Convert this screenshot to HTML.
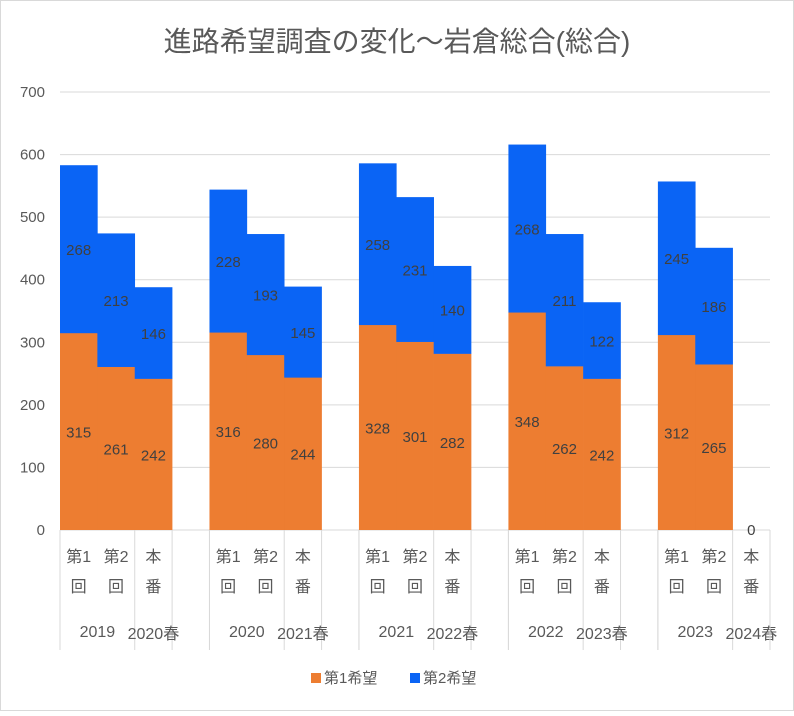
<!DOCTYPE html>
<html><head><meta charset="utf-8"><style>
body{margin:0;background:#fff}
svg{font-family:"Liberation Sans","Noto Sans CJK JP",sans-serif}
</style></head><body>
<svg id="c" width="794" height="711" xmlns="http://www.w3.org/2000/svg">
<rect x="0.5" y="0.5" width="793" height="710" fill="#fff" stroke="#d9d9d9"/>
<text x="397" y="51" text-anchor="middle" font-size="28" fill="#595959">進路希望調査の変化～岩倉総合(総合)</text>
<g id="grid"></g><g id="bars"></g><g id="axis"></g>
<g>
<rect x="311" y="673" width="10" height="10" fill="#ed7d31"/>
<text x="324" y="683" font-size="15" fill="#595959">第1希望</text>
<rect x="410" y="673" width="10" height="10" fill="#0a64f5"/>
<text x="423" y="683" font-size="15" fill="#595959">第2希望</text>
</g>
</svg>
<script>
const years=["2019","2020","2021","2022","2023"];
const springs=["2020春","2021春","2022春","2023春","2024春"];
const subs=[["第1","回"],["第2","回"],["本","番"]];
const first=[[315,261,242],[316,280,244],[328,301,282],[348,262,242],[312,265,0]];
const second=[[268,213,146],[228,193,145],[258,231,140],[268,211,122],[245,186,0]];
const yTicks=[0,100,200,300,400,500,600,700];
const NS="http://www.w3.org/2000/svg";
const x0=60,x1=770,slots=19,sw=(x1-x0)/slots;
const y=v=>530-v*(438/700);
const sx=i=>x0+i*sw;
function mk(tag,attrs,parent,txt){const e=document.createElementNS(NS,tag);for(const k in attrs)e.setAttribute(k,attrs[k]);if(txt!==undefined)e.textContent=txt;parent.appendChild(e);return e;}
const grid=document.getElementById('grid'),bars=document.getElementById('bars'),axis=document.getElementById('axis');
yTicks.forEach(t=>{
  const l=mk('line',{x1:x0,x2:x1,y1:y(t),y2:y(t),stroke:'#d9d9d9','stroke-width':1},grid);
  
  
  const tx=mk('text',{x:45,y:y(t)+5,'text-anchor':'end','font-size':15,fill:'#595959'},axis,String(t));
  
  
});
years.forEach((yr,g)=>{
  for(let k=0;k<3;k++){
    const s=g*4+k,a=first[g][k],b=second[g][k],bx=sx(s);
    const r1=mk('rect',{x:bx,y:y(a),width:sw+0.3,height:y(0)-y(a),fill:'#ed7d31'},bars);
    
    
    const r2=mk('rect',{x:bx,y:y(a+b),width:sw+0.3,height:Math.max(0,y(a)-y(a+b)+(b>0?0.3:0)),fill:'#0a64f5'},bars);
    
    
    if(a>0||b>0){
      const t1=mk('text',{x:bx+sw/2,y:y(a/2)+6,'text-anchor':'middle','font-size':15,fill:'#404040'},bars,String(a));
      
      
      const t2=mk('text',{x:bx+sw/2,y:y(a+b/2)+6,'text-anchor':'middle','font-size':15,fill:'#404040'},bars,String(b));
      
      
    } else {
      const t0=mk('text',{x:bx+sw/2,y:y(0)+5,'text-anchor':'middle','font-size':15,fill:'#404040'},bars,'0');
      
      
    }
    subs[k].forEach((ch,j)=>{
      const t=mk('text',{x:bx+sw/2,y:562+j*30,'text-anchor':'middle','font-size':16,fill:'#595959'},axis,ch);
      
      
    });
  }
  [g*4,g*4+2,g*4+3].forEach(s=>{
    const l=mk('line',{x1:sx(s),x2:sx(s),y1:530,y2:650,stroke:'#d9d9d9'},axis);
    
    
  });
  if(g<4){const l=mk('line',{x1:sx(g*4+4),x2:sx(g*4+4),y1:530,y2:650,stroke:'#d9d9d9'},axis);
    
    }
  const ty=mk('text',{x:sx(g*4+1),y:637,'text-anchor':'middle','font-size':16,fill:'#595959'},axis,yr);
  
  
  const ts=mk('text',{x:sx(g*4+2.5),y:639,'text-anchor':'middle','font-size':16,fill:'#595959'},axis,springs[g]);
  
  
});
const le=mk('line',{x1:x1,x2:x1,y1:530,y2:650,stroke:'#d9d9d9'},axis);


</script>
</body></html>
